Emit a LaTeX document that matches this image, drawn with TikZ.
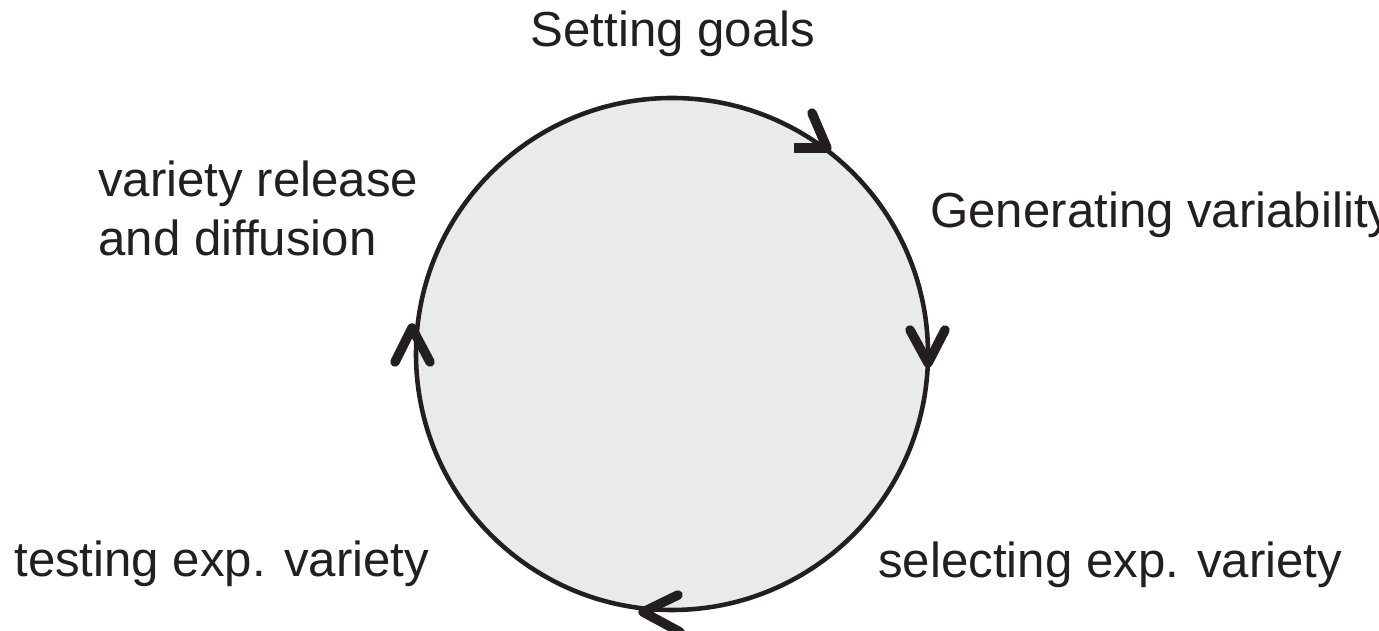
\documentclass[tikz,border=0pt]{standalone}
\usepackage{fontspec}
\setmainfont{Liberation Sans}
\usepackage{tikz}
\usetikzlibrary{positioning}
\definecolor{inkblack}{RGB}{35,31,32}
\definecolor{ringfill}{RGB}{233,234,236}
\tikzset{
  label text/.style={inner sep=0pt, anchor=base west, text=inkblack,
    font=\fontsize{28}{34}\selectfont},
  chevron/.style={draw=inkblack, line width=5.4pt, line cap=round, line join=round},
}

\begin{document}
\begin{tikzpicture}[x=0.02cm, y=0.02cm]
      \useasboundingbox (0, 0) rectangle (1379, 631);
      \clip (0, 0) rectangle (1379, 631);

      \draw [draw=inkblack, fill=ringfill, line width=2.6pt] (672, 277) circle [radius=256];

      \node [label text, anchor=base] (goals) at (673, 584) {Setting goals};
      \node [label text] (generating) at (930, 403) {Generating variability};
      \node [label text] (selecting) at (878, 53) {selecting exp. variety};
      \node [label text] (testing) at (14, 54) {testing exp. variety};
      \node [label text] (release) at (98, 434) {variety release};
      \node [label text] (diffusion) at (98, 375) {and diffusion};

      \draw [chevron] (812, 518) -- (827, 483);
      \draw [chevron, line cap=butt] (827, 483) -- (794, 483);
      \draw [chevron] (910, 301) -- (928, 268) -- (945, 301);
      \draw [chevron] (678, 36) -- (643, 19) -- (680, -1);
      \draw [chevron] (395, 269) -- (412, 303) -- (430, 269);
    \end{tikzpicture}
\end{document}
